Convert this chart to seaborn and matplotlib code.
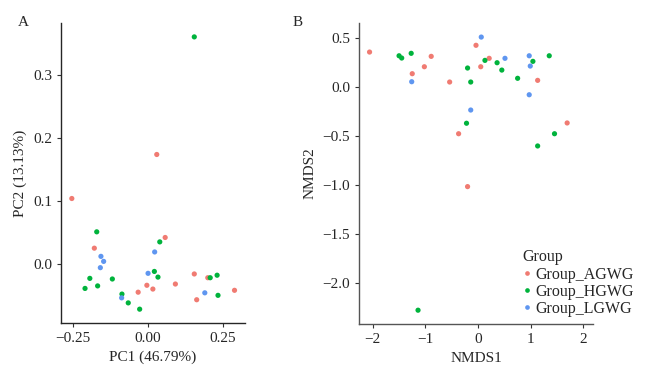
import numpy as np
import pandas as pd
import seaborn as sns
import matplotlib.pyplot as plt

# PCA (panel A)
pca_groups = ['Group_AGWG'] * 12 + ['Group_HGWG'] * 15 + ['Group_LGWG'] * 7
pc1 = [0.029, -0.254, -0.179, -0.033, -0.004, 0.016, 0.057, 0.091, 0.154, 0.162, 0.199, 0.288,
       0.154, -0.171, -0.194, -0.210, -0.168, -0.119, -0.087, -0.066, -0.028, 0.021, 0.033, 0.039, 0.207, 0.230, 0.233,
       -0.157, -0.148, -0.159, -0.088, 0.000, 0.022, 0.189]
pc2 = [0.174, 0.104, 0.025, -0.045, -0.034, -0.040, 0.042, -0.032, -0.016, -0.057, -0.022, -0.042,
       0.361, 0.051, -0.023, -0.039, -0.035, -0.024, -0.048, -0.062, -0.072, -0.012, -0.021, 0.035, -0.022, -0.018, -0.050,
       0.012, 0.004, -0.006, -0.054, -0.015, 0.019, -0.046]

# NMDS (panel B)
nmds_groups = ['Group_AGWG'] * 12 + ['Group_HGWG'] * 15 + ['Group_LGWG'] * 7
nmds1 = [-2.06, -0.89, -1.02, -1.25, -0.54, -0.37, -0.20, -0.04, 0.21, 0.05, 1.13, 1.69,
         -1.50, -1.45, -1.27, -0.20, -0.14, -0.22, -1.14, 0.13, 0.36, 0.45, 0.75, 1.04, 1.35, 1.45, 1.13,
         -1.26, -0.14, 0.06, 0.51, 0.97, 0.99, 0.97]
nmds2 = [0.357, 0.313, 0.207, 0.136, 0.051, -0.477, -1.017, 0.426, 0.293, 0.207, 0.068, -0.367,
         0.319, 0.296, 0.344, 0.194, 0.051, -0.370, -2.279, 0.272, 0.248, 0.173, 0.089, 0.262, 0.319, -0.477, -0.602,
         0.054, -0.235, 0.510, 0.293, 0.319, 0.214, -0.079]

df_a = pd.DataFrame({'PC1': pc1, 'PC2': pc2, 'Group': pca_groups})
df_b = pd.DataFrame({'NMDS1': nmds1, 'NMDS2': nmds2, 'Group': nmds_groups})

sns.set_style('ticks')
plt.rcParams['font.family'] = ['Liberation Serif', 'DejaVu Serif']
plt.rcParams['font.size'] = 10

cores = {'Group_AGWG': '#F07B72', 'Group_HGWG': '#00B33C', 'Group_LGWG': '#5F96F0'}

fig = plt.figure(figsize=(6.47, 3.72), dpi=100)
ax1 = fig.add_axes([0.0943, 0.1317, 0.2844, 0.8063])
ax2 = fig.add_axes([0.5549, 0.129, 0.3616, 0.809])

sns.scatterplot(data=df_a, x='PC1', y='PC2', hue='Group', palette=cores, s=14,
                linewidth=0, ax=ax1, legend=False)
ax1.set_xlim(-0.29, 0.323)
ax1.set_ylim(-0.094, 0.383)
ax1.set_xticks([-0.25, 0.0, 0.25])
ax1.set_xticklabels(['\u22120.25', '0.00', '0.25'])
ax1.set_yticks([0.0, 0.1, 0.2, 0.3])
ax1.set_yticklabels(['0.0', '0.1', '0.2', '0.3'])
ax1.set_xlabel('PC1 (46.79%)', fontsize=11)
ax1.set_ylabel('PC2 (13.13%)', fontsize=11)

sns.scatterplot(data=df_b, x='NMDS1', y='NMDS2', hue='Group', palette=cores, s=14,
                linewidth=0, ax=ax2)
ax2.set_xlim(-2.26, 2.18)
ax2.set_ylim(-2.42, 0.653)
ax2.set_xticks([-2, -1, 0, 1, 2])
ax2.set_xticklabels(['\u22122', '\u22121', '0', '1', '2'])
ax2.set_yticks([0.5, 0.0, -0.5, -1.0, -1.5, -2.0])
ax2.set_yticklabels(['0.5', '0.0', '\u22120.5', '\u22121.0', '\u22121.5', '\u22122.0'])
ax2.set_xlabel('NMDS1', fontsize=11)
ax2.set_ylabel('NMDS2', fontsize=11)

for ax in [ax1, ax2]:
    sns.despine(ax=ax)
    ax.tick_params(labelsize=11, length=3, width=0.8, color='#333333')
    for sp in ['left', 'bottom']:
        ax.spines[sp].set_linewidth(1.0)
ax2.spines['left'].set_color('#555555')
ax2.spines['bottom'].set_color('#555555')

leg = ax2.legend(loc='upper left', bbox_to_anchor=(0.807, 0.33), bbox_transform=fig.transFigure,
                 title='Group', frameon=False, fontsize=11.5, title_fontsize=11.5,
                 handlelength=0.6, handletextpad=0.2, labelspacing=0.08, borderaxespad=0,
                 borderpad=0, markerscale=0.9)
leg._legend_box.align = 'left'

fig.text(0.028, 0.93, 'A', fontsize=11)
fig.text(0.452, 0.93, 'B', fontsize=11)

plt.savefig('out.png', dpi=100)
